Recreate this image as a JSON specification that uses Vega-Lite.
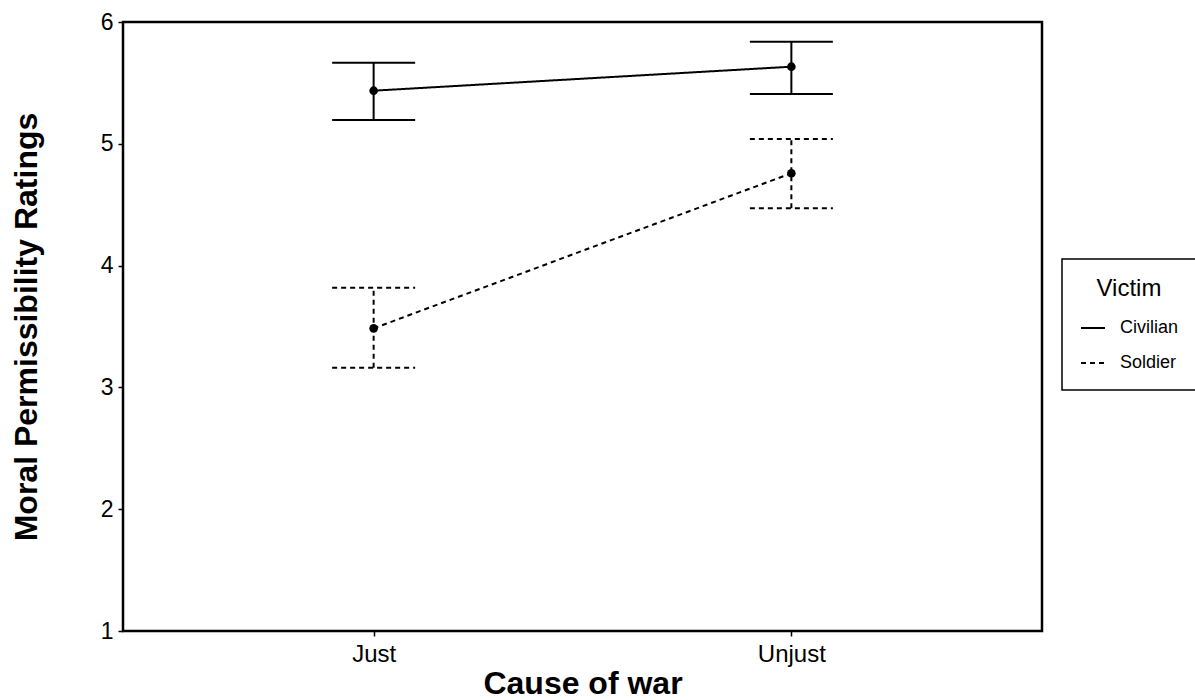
{
  "$schema": "https://vega.github.io/schema/vega-lite/v6.json",
  "autosize": {"type": "none"},
  "padding": {"left": 123, "top": 22, "right": 153, "bottom": 69},
  "width": 919,
  "height": 609,
  "background": "white",
  "config": {
    "font": "Liberation Sans",
    "view": {"stroke": "black", "strokeWidth": 2.5},
    "axis": {
      "domain": false,
      "grid": false,
      "tickColor": "black",
      "tickWidth": 1.5,
      "tickSize": 5,
      "labelColor": "black",
      "labelFont": "Liberation Sans",
      "labelFontSize": 23,
      "titleColor": "black",
      "titleFont": "Liberation Sans",
      "titleFontSize": 32,
      "titleFontWeight": "bold"
    },
    "legend": {
      "strokeColor": "black",
      "strokeWidth": 1.5,
      "padding": 18,
      "titleFont": "Liberation Sans",
      "titleFontSize": 24,
      "titleFontWeight": "normal",
      "titleColor": "black",
      "titleAnchor": "middle",
      "titlePadding": 14,
      "labelFont": "Liberation Sans",
      "labelFontSize": 18,
      "labelColor": "black",
      "labelOffset": 14,
      "rowPadding": 13,
      "symbolType": "stroke",
      "symbolSize": 576,
      "symbolStrokeWidth": 2,
      "symbolStrokeColor": "black"
    }
  },
  "data": {
    "values": [
      {"cause": "Just", "victim": "Civilian", "mean": 5.436, "lo": 5.195, "hi": 5.666},
      {"cause": "Unjust", "victim": "Civilian", "mean": 5.633, "lo": 5.409, "hi": 5.838},
      {"cause": "Just", "victim": "Soldier", "mean": 3.485, "lo": 3.162, "hi": 3.819},
      {"cause": "Unjust", "victim": "Soldier", "mean": 4.758, "lo": 4.47, "hi": 5.039}
    ]
  },
  "encoding": {
    "x": {
      "field": "cause",
      "type": "nominal",
      "scale": {"type": "point", "padding": 0.6, "domain": ["Just", "Unjust"]},
      "axis": {"title": "Cause of war", "labelAngle": 0, "labelPadding": 6, "labelFontSize": 24, "titleFontSize": 32, "titleY": 62, "titleBaseline": "alphabetic"}
    }
  },
  "layer": [
    {
      "mark": {"type": "rule", "color": "black", "strokeWidth": 2},
      "encoding": {
        "y": {
          "field": "lo",
          "type": "quantitative",
          "scale": {"domain": [1, 6], "nice": false, "zero": false},
          "axis": {"title": "Moral Permissibility Ratings", "values": [1, 2, 3, 4, 5, 6], "format": "d", "labelPadding": 5, "labelFontSize": 23, "titleFontSize": 32, "titleX": -97, "titleBaseline": "middle"}
        },
        "y2": {"field": "hi"},
        "strokeDash": {
          "field": "victim",
          "type": "nominal",
          "scale": {"domain": ["Civilian", "Soldier"], "range": [[1, 0], [5, 4]]},
          "legend": {"title": "Victim", "orient": "none", "legendX": 939, "legendY": 237}
        }
      }
    },
    {
      "mark": {"type": "rule", "color": "black", "strokeWidth": 2, "xOffset": -41.5, "x2Offset": 41.5},
      "encoding": {
        "x2": {"field": "cause"},
        "y": {"field": "lo", "type": "quantitative"},
        "strokeDash": {"field": "victim", "type": "nominal"}
      }
    },
    {
      "mark": {"type": "rule", "color": "black", "strokeWidth": 2, "xOffset": -41.5, "x2Offset": 41.5},
      "encoding": {
        "x2": {"field": "cause"},
        "y": {"field": "hi", "type": "quantitative"},
        "strokeDash": {"field": "victim", "type": "nominal"}
      }
    },
    {
      "mark": {"type": "line", "color": "black", "strokeWidth": 2},
      "encoding": {
        "y": {"field": "mean", "type": "quantitative"},
        "strokeDash": {"field": "victim", "type": "nominal"},
        "detail": {"field": "victim"}
      }
    },
    {
      "mark": {"type": "point", "filled": true, "color": "black", "opacity": 1, "size": 75},
      "encoding": {
        "y": {"field": "mean", "type": "quantitative"},
        "detail": {"field": "victim"}
      }
    }
  ]
}
